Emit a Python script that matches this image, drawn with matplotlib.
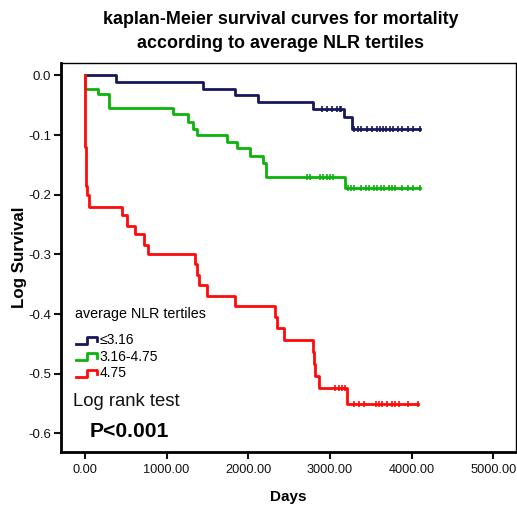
import matplotlib
matplotlib.use("Agg")
import matplotlib.pyplot as plt
import numpy as np
from matplotlib.legend_handler import HandlerBase
from matplotlib.lines import Line2D

plt.rcParams["font.family"] = ["Liberation Sans", "DejaVu Sans"]

# survival steps (days, log survival)
low_times = [0, 380, 1448, 1837, 2123, 2788, 3171, 3265, 4101]
low_vals = [0.0, -0.011, -0.023, -0.033, -0.045, -0.056, -0.070, -0.089, -0.089]
low_censor = [2898, 2959, 3021, 3082, 3122, 3140, 3300, 3340, 3380, 3450, 3520,
              3580, 3610, 3650, 3690, 3730, 3770, 3830, 3880, 3950, 4020, 4101]

mid_times = [0, 3, 164, 299, 1082, 1266, 1327, 1368, 1735, 1858, 2021, 2184,
             2217, 3184, 4101]
mid_vals = [0.0, -0.022, -0.032, -0.054, -0.065, -0.078, -0.089, -0.100,
            -0.111, -0.122, -0.135, -0.147, -0.171, -0.188, -0.188]
mid_censor = [2720, 2760, 2880, 2920, 2960, 3000, 3040, 3220, 3260, 3300, 3380,
              3440, 3480, 3540, 3580, 3620, 3660, 3720, 3760, 3800, 3880, 3960,
              4020, 4101]

high_times = [0, 2, 5, 8, 12, 20, 30, 45, 450, 511, 613, 723, 768, 1347, 1377,
              1397, 1498, 1837, 2327, 2347, 2441, 2796, 2804, 2816, 2865, 3212,
              4080]
high_vals = [0.0, -0.06, -0.12, -0.15, -0.17, -0.185, -0.20, -0.22, -0.234,
             -0.252, -0.266, -0.284, -0.300, -0.316, -0.335, -0.351, -0.369,
             -0.387, -0.404, -0.424, -0.443, -0.463, -0.483, -0.504, -0.523,
             -0.551, -0.551]
high_censor = [3060, 3110, 3150, 3190, 3290, 3350, 3420, 3560, 3600, 3640, 3700,
               3760, 3800, 3840, 3960, 4080]

group_labels = ["\u22643.16", "3.16-4.75", "4.75"]
group_colors = ["#17175e", "#0cb30c", "#ff0a0a"]

x_ticks = [0, 1000, 2000, 3000, 4000, 5000]
y_ticks = [0.0, -0.1, -0.2, -0.3, -0.4, -0.5, -0.6]


class StepHandler(HandlerBase):
    def create_artists(self, legend, orig_handle, xdescent, ydescent,
                       width, height, fontsize, trans):
        xs = np.array([0.0, 0.5, 0.5, 0.95, 0.95]) * width - xdescent
        ys = np.array([0.05, 0.05, 0.8, 0.8, 0.3]) * height - ydescent
        line = Line2D(xs, ys, color=orig_handle.get_color(), lw=2.0)
        line.set_transform(trans)
        return [line]


def value_at(times, vals, t):
    idx = np.searchsorted(times, t, side="right") - 1
    return np.asarray(vals)[idx]


def main() -> None:
    fig = plt.figure(figsize=(5.17, 5.07), dpi=100)
    ax = fig.add_axes([0.118, 0.1085, 0.880, 0.7675])

    groups = [
        (low_times, low_vals, low_censor),
        (mid_times, mid_vals, mid_censor),
        (high_times, high_vals, high_censor),
    ]
    handles = []
    for (times, vals, censor), color, label in zip(groups, group_colors, group_labels):
        (line,) = ax.plot(times, vals, drawstyle="steps-post", color=color,
                          lw=2.0, label=label)
        ax.plot(censor, value_at(times, vals, censor), ls="none", marker="|",
                ms=4, mew=1.2, color=color)
        handles.append(line)

    ax.set_xlim(-292, 5277)
    ax.set_ylim(-0.631, 0.021)
    ax.set_xticks(x_ticks)
    ax.set_xticklabels([f"{t:.2f}" for t in x_ticks])
    ax.set_yticks(y_ticks)
    ax.set_yticklabels([f"{t:.1f}" for t in y_ticks])
    ax.tick_params(length=5, width=1.5, direction="out", colors="#111111")
    ax.tick_params(axis="x", labelsize=9.2, pad=4)
    ax.tick_params(axis="y", labelsize=9.5, pad=2)

    for side in ["left", "bottom"]:
        ax.spines[side].set_linewidth(2.0)
    for side in ["top", "right"]:
        ax.spines[side].set_linewidth(1.0)

    ax.set_xlabel("Days", fontsize=11, fontweight="bold", labelpad=10)
    ax.set_ylabel("Log Survival", fontsize=12.2, fontweight="bold", labelpad=1)
    ax.set_title("kaplan-Meier survival curves for mortality\n"
                 "according to average NLR tertiles",
                 fontsize=12.9, fontweight="bold", pad=11, linespacing=1.5,
                 x=0.4835)

    ax.text(0.031, 0.355, "average NLR tertiles", transform=ax.transAxes,
            fontsize=10.3, va="center", ha="left")
    ax.legend(handles=handles, labels=group_labels,
              handler_map={Line2D: StepHandler()},
              fontsize=10, loc="upper left", bbox_to_anchor=(0.012, 0.33),
              frameon=False, handlelength=1.6, handletextpad=0.1,
              labelspacing=0.18, borderpad=0.2)

    ax.text(0.026, 0.118, "Log rank test", transform=ax.transAxes,
            fontsize=13.3, va="baseline", ha="left", color="#111111")
    ax.text(0.064, 0.039, "P<0.001", transform=ax.transAxes,
            fontsize=15.2, fontweight="bold", va="baseline", ha="left")

    fig.savefig("out.png", dpi=100)


if __name__ == "__main__":
    main()
